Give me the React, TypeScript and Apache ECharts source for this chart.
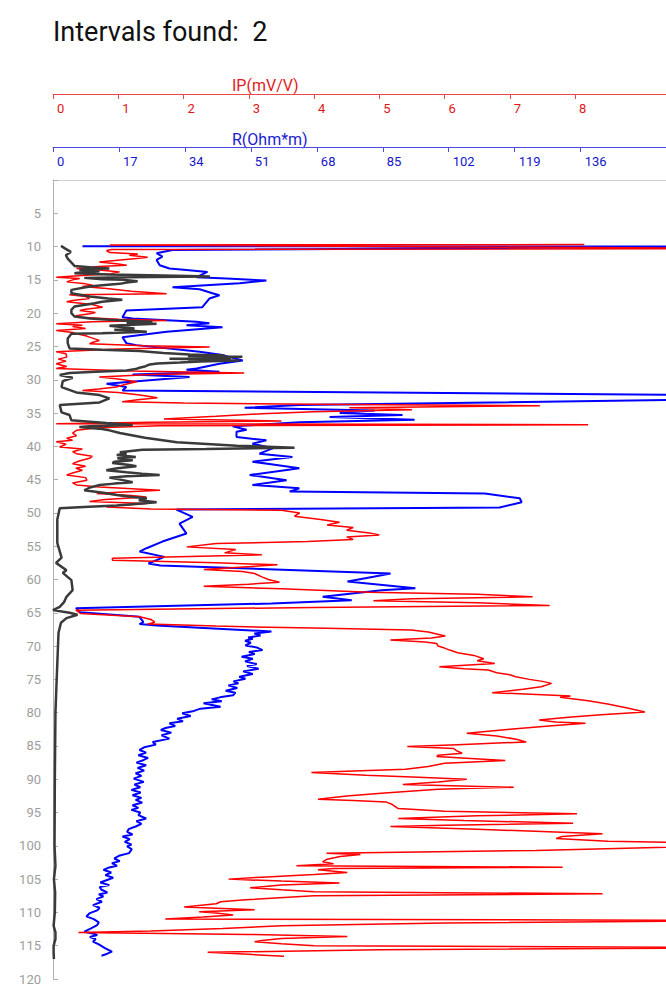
import React, { useEffect, useRef } from "react";
import * as echarts from "echarts";

const TITLE = "Intervals found:  2";
const IP_NAME = "IP(mV/V)";
const R_NAME = "R(Ohm*m)";

const ipTicks = [0, 1, 2, 3, 4, 5, 6, 7, 8];
const rTicks = [0, 17, 34, 51, 68, 85, 102, 119, 136];
const depthMin = 0;
const depthMax = 120;
const depthStep = 5;

// [depth (m), IP (mV/V)]
const ipLog: number[][] = [
  [9.7, 8.14], [9.75, 0.87], [10.3, 11], [10.45, 0.9], [10.6, 0.82], [10.9, 0.87], [11.1, 1.3], [11.3, 1.17],
  [11.6, 1.45], [11.8, 1.28], [12.1, 0.95], [12.3, 0.71], [12.6, 1.0], [12.8, 1.13], [13.0, 0.7], [13.3, 0.36],
  [13.5, 0.71], [13.8, 1.02], [14.1, 0.87], [14.3, 0.5], [14.6, 0.05], [14.8, 0.41], [15.0, 0.3], [15.3, 0.21],
  [15.6, 0.5], [15.8, 0.61], [16.0, 0.45], [16.3, 0.82], [16.7, 1.2], [17.1, 1.74], [17.25, 0.25], [17.5, 0.5],
  [17.8, 0.56], [18.1, 0.3], [18.3, 0.21], [18.7, 0.6], [19.1, 0.76], [19.4, 0.5], [19.6, 0.41], [19.9, 0.65],
  [20.1, 0.56], [20.4, 0.35], [20.6, 0.41], [20.9, 1.0], [21.1, 1.74], [21.3, 0.6], [21.6, 0.05], [21.8, 0.45],
  [22.0, 0.3], [22.3, 0.5], [22.6, 0.05], [22.9, 0.3], [23.1, 0.36], [23.4, 0.5], [23.6, 0.56], [23.9, 0.65],
  [24.1, 0.71], [24.4, 0.6], [24.6, 0.56], [24.9, 1.4], [25.1, 2.4], [25.4, 1.0], [25.8, 0.05], [26.1, 0.2],
  [26.6, 0.21], [26.9, 0.08], [27.2, 0.2], [27.6, 0.05], [28.0, 0.21], [28.3, 0.05], [28.7, 1.2], [29.0, 2.93],
  [29.2, 1.5], [29.6, 0.71], [29.9, 1.0], [30.3, 1.28], [30.7, 1.1], [31.1, 0.97], [31.4, 0.7], [31.6, 0.45],
  [31.9, 1.0], [32.3, 1.33], [32.7, 1.6], [33.0, 1.3], [33.3, 1.06], [33.5, 2.0], [33.7, 4.5], [33.9, 7.46],
  [34.2, 4.54], [34.5, 5.5], [34.8, 4.0], [35.1, 3.2], [35.5, 2.5], [35.9, 1.7], [36.2, 3.5], [36.4, 1.5],
  [36.6, 0.05], [36.75, 8.2], [36.9, 1.64], [37.2, 0.7], [37.6, 0.36], [38.0, 0.3], [38.4, 0.36], [38.8, 0.21],
  [39.1, 0.3], [39.3, 0.05], [39.7, 0.2], [40.1, 0.1], [40.4, 0.45], [40.8, 0.3], [41.1, 0.36], [41.5, 0.6],
  [41.8, 0.56], [42.2, 0.4], [42.6, 0.3], [43.0, 0.5], [43.3, 0.35], [43.6, 0.45], [44.0, 0.3], [44.3, 0.21],
  [44.7, 0.5], [45.1, 0.52], [45.5, 0.3], [45.8, 0.36], [46.1, 0.71], [46.6, 1.64], [46.9, 1.0], [47.1, 0.67],
  [47.4, 1.2], [47.6, 1.43], [48.0, 0.8], [48.3, 0.56], [48.6, 1.43], [48.9, 1.0], [49.1, 0.82], [49.4, 1.5],
  [49.6, 3.5], [50.0, 3.78], [50.5, 3.7], [51.0, 4.1], [51.4, 4.39], [51.8, 4.2], [52.2, 4.6], [52.6, 4.5],
  [53.0, 4.85], [53.3, 5.0], [53.6, 4.5], [54.0, 4.6], [54.3, 3.9], [54.6, 2.5], [55.1, 2.05], [55.5, 2.8],
  [56.0, 2.63], [56.3, 3.2], [56.8, 0.91], [57.1, 0.91], [57.5, 2.5], [57.8, 3.44], [58.2, 2.8], [58.5, 2.31],
  [58.8, 2.9], [59.1, 3.09], [59.6, 3.2], [60.0, 3.3], [60.4, 3.47], [60.7, 3.0], [61.0, 2.31], [61.4, 3.5],
  [61.9, 4.85], [62.2, 6.5], [62.6, 7.35], [62.9, 5.5], [63.2, 4.91], [63.5, 6.5], [63.9, 7.61], [64.2, 4.0],
  [64.6, 0.35], [65.1, 0.42], [65.6, 1.33], [66.0, 1.5], [66.4, 1.56], [66.7, 1.45], [67.0, 2.5], [67.3, 4.0],
  [67.6, 5.49], [67.9, 5.75], [68.2, 5.88], [68.5, 6.01], [68.8, 5.8], [69.1, 5.17], [69.4, 5.7], [69.6, 5.88],
  [70.0, 5.9], [70.3, 6.0], [70.6, 6.08], [71.0, 6.2], [71.4, 6.45], [71.9, 6.6], [72.2, 6.5], [72.6, 6.77],
  [73.1, 5.92], [73.4, 6.3], [73.6, 6.67], [74.0, 6.8], [74.3, 7.0], [74.6, 7.09], [75.0, 7.3], [75.3, 7.5],
  [75.6, 7.64], [76.1, 7.48], [76.5, 7.2], [77.0, 6.73], [77.3, 7.5], [77.5, 7.93], [77.7, 7.77], [78.2, 8.2],
  [78.7, 8.5], [79.3, 8.8], [79.9, 9.07], [80.3, 8.4], [80.7, 7.9], [81.1, 7.45], [81.4, 7.7], [81.6, 8.16],
  [82.0, 7.6], [82.5, 7.0], [83.1, 6.34], [83.5, 6.8], [84.0, 7.1], [84.4, 7.25], [84.8, 6.2], [85.1, 5.43],
  [85.4, 6.14], [85.8, 6.2], [86.1, 6.27], [86.4, 5.9], [86.6, 5.88], [86.9, 6.4], [87.2, 6.93], [87.6, 6.0],
  [88.1, 5.75], [88.5, 5.4], [88.8, 4.5], [89.0, 3.96], [89.4, 4.8], [89.7, 5.6], [90.0, 6.34], [90.4, 5.9],
  [90.8, 5.36], [91.2, 7.06], [91.5, 5.9], [92.1, 5.03], [92.5, 4.5], [93.0, 4.06], [93.2, 4.6], [93.4, 5.1],
  [93.8, 5.2], [94.4, 5.29], [94.8, 6.0], [95.2, 8.03], [95.5, 6.5], [95.9, 5.29], [96.2, 6.3], [96.6, 7.97],
  [96.9, 6.0], [97.1, 5.17], [97.5, 6.5], [98.2, 8.42], [98.6, 7.8], [98.9, 7.71], [99.3, 8.5], [99.8, 11],
  [100.7, 7.4], [101.1, 4.19], [101.3, 4.71], [101.6, 4.4], [102.0, 4.2], [102.4, 4.13], [102.7, 4.3], [103.0, 3.73],
  [103.2, 7.81], [103.4, 4.3], [103.6, 4.06], [104.0, 4.51], [104.3, 4.0], [104.7, 3.2], [105.0, 2.69], [105.3, 3.5],
  [105.6, 4.39], [105.9, 3.5], [106.3, 3.02], [106.6, 3.5], [106.9, 4.0], [107.2, 8.42], [107.5, 4.0], [108.1, 2.95],
  [108.4, 2.57], [108.7, 2.5], [109.2, 2.01], [109.6, 3.09], [109.9, 2.24], [110.1, 2.5], [110.4, 2.76], [110.7, 2.3],
  [111.0, 1.72], [111.2, 11], [111.6, 6.0], [112.0, 3.5], [112.4, 2.6], [112.8, 1.5], [113.0, 0.39], [113.3, 3.0],
  [113.6, 4.51], [113.9, 3.5], [114.2, 3.2], [114.4, 3.09], [114.7, 3.5], [115.0, 4.0], [115.3, 11], [115.6, 5.0],
  [116.0, 2.37], [116.3, 3.0], [116.6, 3.54],
];

// [depth (m), R (Ohm*m)]
const rLog: number[][] = [
  [9.95, 7.6], [10.0, 175], [10.5, 30.8], [11.0, 26.7], [11.5, 28.2], [12.0, 26.7], [12.8, 27.5], [13.3, 30.0],
  [13.5, 34.4], [13.8, 39.8], [14.6, 37.0], [14.8, 44.7], [15.1, 55.0], [15.5, 48.1], [16.1, 30.8], [16.4, 37.8],
  [17.0, 41.1], [17.3, 42.9], [17.8, 40.3], [19.1, 38.5], [19.6, 18.9], [20.6, 17.9], [20.8, 20.5], [21.3, 37.0],
  [21.5, 40.3], [21.8, 34.4], [22.1, 43.7], [22.8, 29.3], [23.6, 17.9], [24.5, 18.9], [24.8, 21.5], [25.8, 37.8],
  [26.3, 43.7], [27.1, 48.9], [27.6, 42.9], [28.3, 37.0], [28.5, 34.4], [28.8, 42.9], [29.2, 20.5], [29.6, 35.2],
  [30.6, 13.8], [31.1, 18.9], [31.6, 17.9], [32.3, 170], [33.0, 165], [33.8, 63.7], [34.2, 49.4], [34.6, 82.9],
  [35.0, 73.9], [35.3, 90.1], [35.6, 71.3], [36.0, 93.2], [36.4, 63.5], [37.0, 46.3], [37.5, 49.9], [37.8, 47.3],
  [38.6, 47.3], [39.1, 55.0], [39.6, 51.4], [40.3, 56.6], [41.1, 53.2], [41.6, 61.7], [42.3, 51.4], [42.8, 57.6],
  [43.3, 63.5], [44.3, 50.7], [45.1, 60.2], [45.8, 51.4], [46.3, 63.5], [46.8, 61.0], [47.1, 111.3], [47.8, 120.3],
  [48.4, 120.8], [49.2, 115.1], [49.5, 31.8], [50.6, 36.0], [51.6, 32.6], [53.1, 34.4], [54.3, 28.2], [55.3, 24.1],
  [55.8, 22.3], [56.6, 28.7], [57.6, 24.6], [57.9, 27.7], [58.6, 62.8], [59.1, 87.0], [59.6, 82.6], [60.3, 75.9],
  [61.3, 93.4], [61.6, 84.7], [62.6, 69.5], [63.1, 77.0], [63.6, 56.3], [64.3, 5.9], [64.9, 7.0], [65.6, 22.3],
  [66.4, 23.3], [66.7, 22.3], [66.9, 26.7], [67.8, 56.3], [68.1, 51.9], [68.4, 53.5], [68.7, 50.3], [68.9, 51.5],
  [69.2, 49.5], [69.5, 51.0], [69.9, 49.6], [70.2, 52.5], [70.6, 54.0], [70.9, 50.5], [71.2, 52.0], [71.6, 48.6],
  [71.9, 51.5], [72.3, 49.5], [72.7, 52.5], [73.0, 50.0], [73.4, 53.0], [73.8, 49.0], [74.2, 51.5], [74.6, 48.0],
  [74.9, 49.6], [75.3, 46.5], [75.6, 47.8], [75.9, 45.2], [76.3, 47.5], [76.7, 44.5], [77.0, 47.0], [77.4, 46.4],
  [77.7, 43.0], [78.0, 40.9], [78.3, 43.5], [78.6, 38.8], [79.1, 43.2], [79.4, 38.0], [79.8, 36.0], [80.1, 33.3],
  [80.5, 35.5], [80.9, 32.0], [81.3, 33.5], [81.6, 30.0], [82.0, 31.5], [82.3, 29.0], [82.6, 27.8], [83.0, 30.5],
  [83.4, 28.0], [83.9, 30.0], [84.4, 25.7], [84.8, 26.5], [85.2, 23.5], [85.6, 22.3], [86.0, 24.0], [86.4, 22.0],
  [86.8, 24.5], [87.1, 23.4], [87.5, 21.5], [87.9, 24.0], [88.3, 21.8], [88.7, 23.5], [89.1, 21.3], [89.5, 22.8],
  [89.9, 20.8], [90.4, 23.4], [90.8, 21.0], [91.2, 22.5], [91.6, 20.2], [92.0, 22.6], [92.4, 20.5], [92.8, 22.8],
  [93.1, 21.3], [93.5, 23.0], [93.9, 20.5], [94.3, 22.0], [94.6, 20.2], [95.0, 22.5], [95.4, 22.0], [95.9, 24.0],
  [96.3, 21.5], [96.7, 22.8], [97.1, 21.3], [97.5, 19.5], [97.9, 19.1], [98.3, 20.5], [98.6, 17.9], [99.0, 19.8],
  [99.4, 18.5], [99.8, 20.2], [100.1, 19.1], [100.5, 20.3], [101.1, 19.6], [101.5, 17.0], [101.9, 15.8], [102.3, 17.2],
  [102.6, 15.2], [103.0, 16.5], [103.3, 14.2], [103.6, 13.0], [104.0, 15.0], [104.4, 13.5], [104.8, 15.5], [105.1, 14.1],
  [105.5, 12.2], [105.9, 14.5], [106.2, 12.0], [106.6, 12.5], [107.0, 14.0], [107.3, 11.8], [107.6, 13.0], [108.0, 11.2],
  [108.4, 12.6], [108.9, 10.3], [109.3, 12.0], [109.7, 11.4], [110.1, 9.5], [110.6, 8.6], [111.0, 10.5], [111.5, 11.8],
  [111.9, 11.4], [112.4, 9.8], [112.9, 8.1], [113.2, 10.5], [113.4, 11.4], [113.7, 9.5], [114.0, 11.0], [114.4, 10.3],
  [114.8, 11.8], [115.4, 13.5], [115.9, 15.2], [116.2, 14.0], [116.5, 12.5],
];

// [depth (m), third log (relative units, no visible scale)]
const grLog: number[][] = [
  [9.9, 1.3], [10.3, 2.0], [10.8, 2.9], [11.3, 2.1], [11.8, 2.4], [12.3, 2.9], [12.9, 3.5], [13.1, 6.0],
  [13.3, 9.2], [13.4, 5.0], [13.5, 4.3], [13.7, 7.6], [13.8, 5.0], [14.0, 3.5], [14.2, 9.0], [14.3, 15.8],
  [14.4, 22.0], [14.5, 25.6], [14.6, 12.0], [14.7, 5.1], [14.9, 8.0], [15.0, 11.7], [15.2, 13.8], [15.4, 12.0],
  [15.6, 10.9], [15.8, 8.0], [16.0, 6.0], [16.5, 3.0], [17.0, 3.0], [17.5, 6.0], [17.8, 9.0], [18.0, 11.3],
  [18.3, 8.0], [18.5, 6.8], [19.0, 3.5], [19.5, 3.0], [20.0, 3.0], [20.5, 3.5], [20.8, 6.0], [21.0, 9.2],
  [21.2, 14.0], [21.3, 16.2], [21.45, 12.0], [21.6, 16.9], [21.75, 13.0], [21.9, 9.2], [22.1, 11.5], [22.3, 13.3],
  [22.5, 10.0], [22.8, 15.3], [23.0, 8.0], [23.1, 3.0], [23.8, 2.4], [24.5, 2.4], [25.3, 2.7], [25.5, 8.0],
  [25.7, 14.1], [26.0, 18.0], [26.2, 22.3], [26.35, 28.0], [26.45, 22.0], [26.55, 30.9], [26.65, 24.0], [26.75, 29.0],
  [26.85, 19.0], [26.95, 27.0], [27.05, 22.0], [27.1, 30.4], [27.25, 24.0], [27.4, 20.7], [27.55, 17.0], [27.7, 15.8],
  [28.0, 15.0], [28.2, 14.1], [28.4, 13.5], [28.6, 12.0], [28.8, 7.0], [29.0, 2.7], [29.3, 1.1], [29.7, 3.2],
  [30.2, 1.6], [31.1, 1.4], [31.9, 3.8], [32.3, 7.6], [32.8, 9.2], [33.4, 7.6], [33.8, 1.1], [34.9, 1.4],
  [35.3, 2.7], [36.1, 3.0], [36.3, 6.0], [36.5, 8.7], [36.8, 13.0], [37.0, 6.0], [37.1, 4.3], [37.4, 8.0],
  [37.6, 9.2], [38.0, 10.9], [38.7, 15.0], [39.4, 20.2], [39.9, 30.0], [40.2, 39.4], [40.4, 25.0], [40.5, 14.6],
  [40.9, 10.9], [41.1, 12.0], [41.3, 10.4], [41.6, 13.5], [41.8, 10.5], [42.1, 13.0], [42.3, 10.0], [42.5, 9.7],
  [42.8, 12.5], [43.0, 13.6], [43.3, 10.5], [43.6, 8.7], [43.9, 12.0], [44.1, 14.5], [44.3, 17.4], [44.5, 12.0],
  [44.7, 9.2], [45.0, 11.0], [45.4, 13.0], [45.6, 10.0], [45.8, 7.6], [46.2, 6.0], [46.6, 5.1], [47.0, 8.5],
  [47.3, 10.4], [47.6, 13.0], [47.8, 15.3], [48.1, 14.0], [48.4, 16.9], [48.7, 13.0], [48.9, 10.4], [49.1, 5.0],
  [49.3, 1.1], [51.0, 0.7], [54.5, 0.7], [56.7, 1.4], [57.5, 0.5], [58.6, 2.2], [59.0, 1.6], [60.1, 3.0],
  [61.6, 3.2], [62.6, 2.2], [63.4, 1.8], [64.1, 1.1], [64.6, 0.0], [65.0, 2.7], [65.3, 4.0], [65.8, 2.2],
  [66.5, 1.3], [68.0, 0.9], [75.0, 0.6], [80.0, 0.4], [90.0, 0.3], [100.0, 0.25], [103.0, 0.4], [105.0, 0.15],
  [107.0, 0.35], [110.0, 0.3], [112.0, 0.1], [113.0, 0.4], [114.0, 0.4], [115.0, 0.1], [116.0, 0.1], [117.0, 0.15],
];

const IP_MAX = 9.393;
const R_MAX = 158.0;
const GR_MAX = 100;

export default function App() {
  const ref = useRef<HTMLDivElement>(null);

  useEffect(() => {
    if (!ref.current) return;
    const chart = echarts.init(ref.current, undefined, { renderer: "svg" });
    const font = "Roboto";
    const red = "#ff0000";
    const blue = "#0000ff";

    const topAxis = (
      min: number,
      max: number,
      interval: number,
      ticks: number[],
      offset: number,
      lineColor: string,
      labelColor: string
    ) => ({
      type: "value",
      position: "top",
      offset,
      min,
      max,
      interval,
      splitLine: { show: false },
      axisLine: { show: true, onZero: false, lineStyle: { color: lineColor, width: 1 } },
      axisTick: {
        show: true,
        inside: true,
        length: 5,
        customValues: ticks,
        lineStyle: { color: lineColor, width: 1 },
      },
      axisLabel: {
        show: true,
        inside: true,
        margin: 8,
        align: "left",
        padding: [0, 0, 0, 4],
        color: labelColor,
        fontSize: 13,
        fontFamily: font,
        showMaxLabel: false,
        formatter: (v: number) => (ticks.indexOf(v) >= 0 ? String(v) : ""),
      },
    });

    chart.setOption({
      animation: false,
      backgroundColor: "#ffffff",
      grid: { left: 53, right: 0, top: 180, bottom: 20, containLabel: false },
      graphic: [
        {
          type: "text",
          x: 53,
          y: 31.5,
          style: {
            text: TITLE,
            fontSize: 27,
            fontFamily: font,
            fill: "#111111",
            verticalAlign: "middle",
          },
        },
        {
          type: "text",
          x: 232,
          y: 85.5,
          style: {
            text: IP_NAME,
            fontSize: 16,
            fontFamily: font,
            fill: "#e21b1b",
            verticalAlign: "middle",
          },
        },
        {
          type: "text",
          x: 232,
          y: 139,
          style: {
            text: R_NAME,
            fontSize: 16,
            fontFamily: font,
            fill: "#1b1bd0",
            verticalAlign: "middle",
          },
        },
      ],
      xAxis: [
        topAxis(0, IP_MAX, 1, ipTicks, 86, "#e84a4a", "#e01515"),
        topAxis(0, R_MAX, 17, rTicks, 33, "#4a4ae0", "#1515cc"),
        {
          type: "value",
          position: "top",
          offset: 0,
          min: 0,
          max: GR_MAX,
          splitLine: { show: false },
          axisLine: { show: true, onZero: false, lineStyle: { color: "#d0d0d0", width: 1 } },
          axisTick: { show: false },
          axisLabel: { show: false },
        },
      ],
      yAxis: [
        {
          type: "value",
          inverse: true,
          min: depthMin,
          max: depthMax,
          interval: depthStep,
          splitLine: { show: false },
          axisLine: { show: true, onZero: false, lineStyle: { color: "#b0b0b0", width: 1 } },
          axisTick: { show: true, inside: true, length: 5, lineStyle: { color: "#b0b0b0" } },
          axisLabel: {
            show: true,
            margin: 12,
            color: "#9e9e9e",
            fontSize: 13,
            fontFamily: font,
            formatter: (v: number) => (v === 0 ? "" : String(v)),
          },
        },
      ],
      series: [
        {
          name: "R",
          type: "line",
          xAxisIndex: 1,
          yAxisIndex: 0,
          data: rLog.map(([d, v]) => [v, d]),
          showSymbol: false,
          symbol: "none",
          clip: true,
          lineStyle: { color: blue, width: 2 },
          z: 2,
        },
        {
          name: "IP",
          type: "line",
          xAxisIndex: 0,
          yAxisIndex: 0,
          data: ipLog.map(([d, v]) => [v, d]),
          showSymbol: false,
          symbol: "none",
          clip: true,
          lineStyle: { color: red, width: 1.5 },
          z: 3,
        },
        {
          name: "GR",
          type: "line",
          xAxisIndex: 2,
          yAxisIndex: 0,
          data: grLog.map(([d, v]) => [v, d]),
          showSymbol: false,
          symbol: "none",
          clip: true,
          lineStyle: { color: "#3a3a3a", width: 2.5 },
          z: 4,
        },
      ],
    });

    return () => chart.dispose();
  }, []);

  return (
    <div
      ref={ref}
      style={{ position: "fixed", left: 0, top: 0, width: 666, height: 999, background: "#fff" }}
    />
  );
}
